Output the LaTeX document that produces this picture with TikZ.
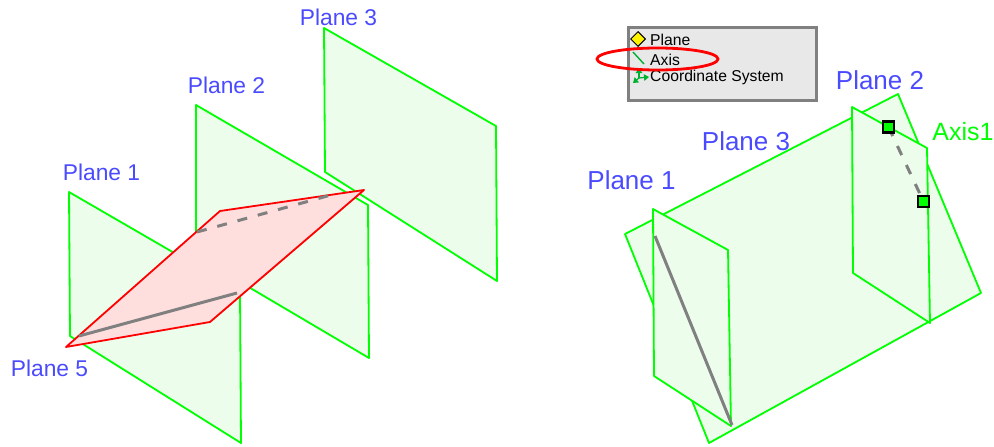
\documentclass[tikz,border=0pt]{standalone}
\usepackage{fontspec}
\setmainfont{Liberation Sans}
\usetikzlibrary{
  arrows.meta,
  shapes.geometric
}
\definecolor{planegreen}{HTML}{00FF00}
\definecolor{planefill}{HTML}{ECFDEC}
\definecolor{redfill}{HTML}{FFDEDE}
\definecolor{labelblue}{HTML}{4A4AFF}
\definecolor{axisgray}{HTML}{808080}
\definecolor{legendgray}{HTML}{E8E8E8}
\definecolor{icongreen}{HTML}{00B030}
\tikzset{
  planeface/.style={draw=planegreen, fill=planefill, line width=1.8pt, line join=round},
  redface/.style={draw=red, fill=redfill, line width=1.8pt, line join=round},
  axisline/.style={draw=axisgray, line width=3pt},
  axisdash/.style={axisline, dash pattern=on 10pt off 11pt},
  handlebox/.style={draw=black, fill=planegreen, line width=2.8pt, inner sep=0pt, minimum size=11pt},
  iconarrow/.style={icongreen, line width=1.2pt, -{Triangle[length=5pt,width=6.5pt]}},
  smalllabel/.style={text=labelblue, font=\fontsize{22.8}{26}\selectfont},
  biglabel/.style={text=labelblue, font=\fontsize{26}{30}\selectfont},
  legendtext/.style={font=\fontsize{15.7}{18}\selectfont, anchor=west}
}
\begin{document}
\begin{tikzpicture}[x=1pt, y=-1pt]
\useasboundingbox (0,0) rectangle (994,447);

% left view: three parallel planes
\draw[planeface] (324,28) -- (496,126) -- (497,281) -- (325,172) -- cycle;
\draw[planeface] (196,105) -- (368,205) -- (369,358) -- (196,256) -- cycle;
\draw[planeface] (69,192) -- (240,291) -- (241,443) -- (70,336) -- cycle;

% left view: cutting plane and its two axes
\draw[redface] (66,347) -- (210,322) -- (364,190) -- (220,211) -- cycle;
\draw[axisline] (79,336) -- (237,293);
\draw[axisdash] (197,232) -- (331,195);

% left view labels
\node[smalllabel] (leftone) at (101.5,172) {Plane 1};
\node[smalllabel] (lefttwo) at (226.5,85) {Plane 2};
\node[smalllabel] (leftthree) at (338.5,17) {Plane 3};
\node[smalllabel] (leftfive) at (49.5,368) {Plane 5};

% legend box
\draw[draw=axisgray, fill=legendgray, line width=3pt] (628,27) rectangle (816,100);
\node[diamond, draw=black, fill=yellow, line width=1pt, inner sep=0pt, minimum size=15pt] (legplane) at (638,39) {};
\draw[icongreen, line width=1.4pt] (633,52) -- (644,64);
\draw[iconarrow] (639,78) -- (639,68);
\draw[iconarrow] (639,78) -- (649,77);
\draw[iconarrow] (639,78) -- (633,83);
\node[legendtext] (legone) at (646.7,39.5) {Plane};
\node[legendtext] (legtwo) at (646.7,59.5) {Axis};
\node[legendtext] (legthree) at (646.7,77.5) {Coordinate System};
\draw[red, line width=2.8pt] (657.5,59) ellipse (60.5 and 11);

% right view: planes seen from the side
\draw[planeface] (625,234) -- (898,94) -- (981,293) -- (709,443) -- cycle;
\draw[planeface] (852,107) -- (927,148) -- (930,323) -- (853,273) -- cycle;
\draw[planeface] (653,209) -- (728,250) -- (731,426) -- (654,376) -- cycle;

% right view: axes
\draw[axisline] (655,236) -- (732,425);
\node[handlebox] (handlea) at (888.5,127) {};
\node[handlebox] (handleb) at (923.5,201.5) {};
\draw[axisdash] (handlea.center) -- (handleb.center);
\node[handlebox] at (handlea.center) {};
\node[handlebox] at (handleb.center) {};

% right view labels
\node[biglabel] (rightone) at (631.5,180) {Plane 1};
\node[biglabel] (rightthree) at (746,141) {Plane 3};
\node[biglabel] (righttwo) at (880,80) {Plane 2};
\node[text=planegreen, font=\fontsize{25}{29}\selectfont] (axisone) at (963,132) {Axis1};
\end{tikzpicture}
\end{document}
